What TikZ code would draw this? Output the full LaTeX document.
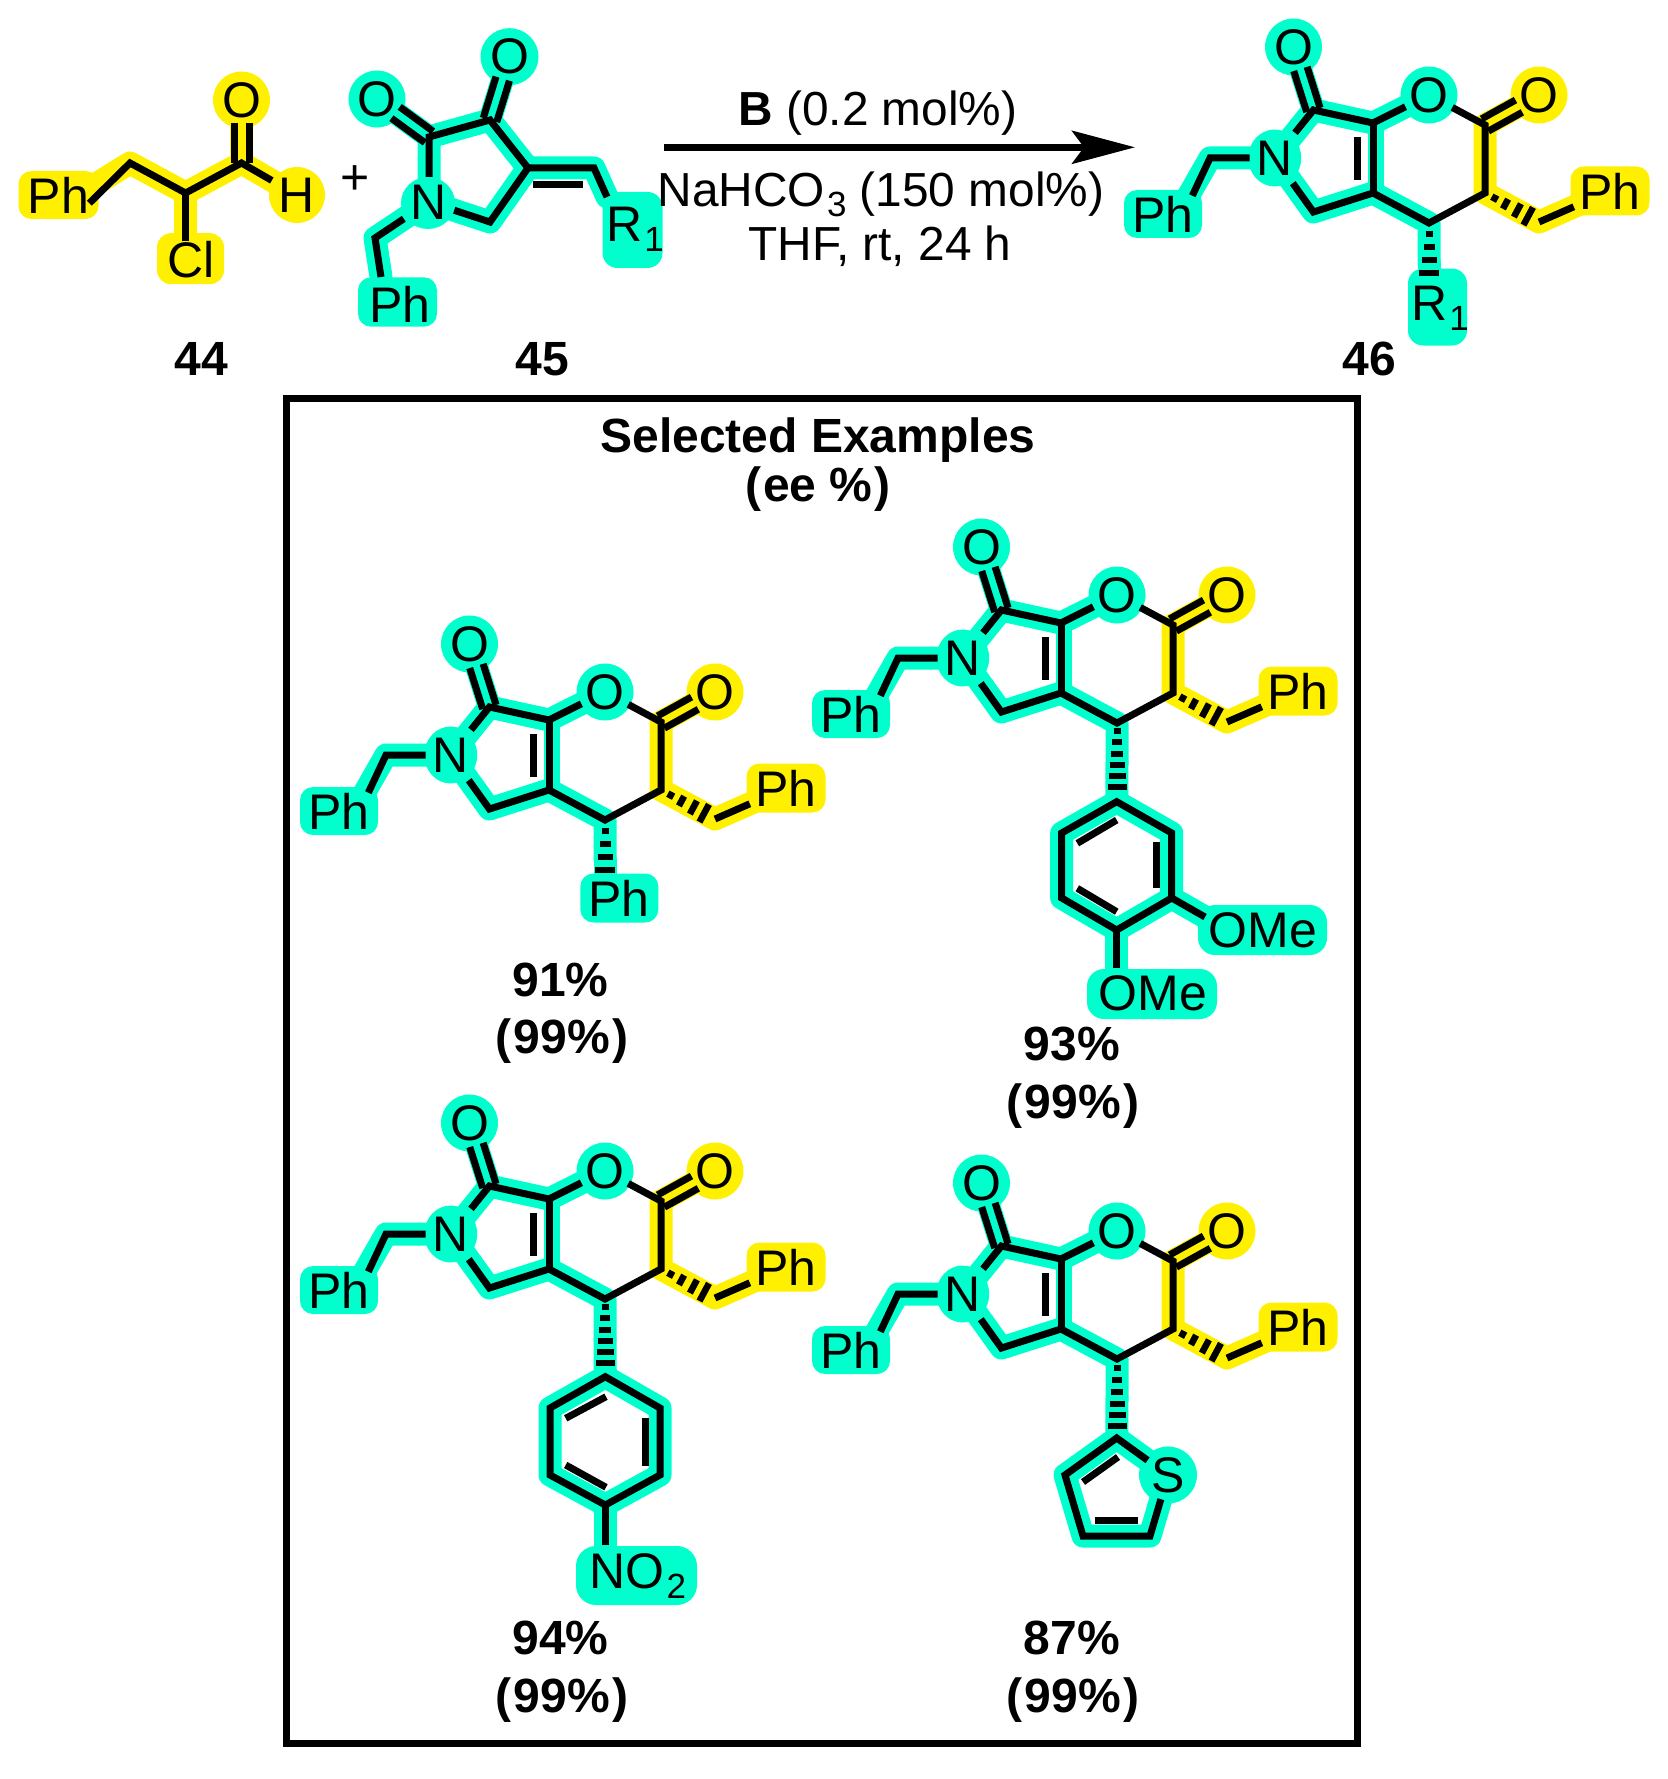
\documentclass[tikz,border=0pt]{standalone}
\usepackage{fontspec}
\setmainfont{Liberation Sans}
\usetikzlibrary{calc,arrows.meta}
\definecolor{hlT}{HTML}{00FFCC}
\definecolor{hlY}{HTML}{FFF000}
\newcommand\chemsub[1]{\kern2pt\raisebox{-10pt}{\fontsize{35}{35}\selectfont #1}}
\newcommand\blobr[5]{\fill[#5,rounded corners=#4 pt] ([shift={(-#2,-#3)}]#1) rectangle ([shift={(#2,#3)}]#1);}
\newcommand\blobe[4]{\fill[#4] (#1) ellipse [x radius=#2 pt,y radius=#3 pt];}
\newcommand\hashdown[2]{\foreach \d/\w in #2 {\draw[stripe] ([shift={(-\w,\d)}]#1) -- ([shift={(\w,\d)}]#1);}}
\newcommand\dbl[4]{\draw[bondline,shorten >=#4 pt] ($(#1)!#3 pt!90:(#2)$) -- ($(#2)!#3 pt!-90:(#1)$);\draw[bondline,shorten >=#4 pt] ($(#1)!#3 pt!-90:(#2)$) -- ($(#2)!#3 pt!90:(#1)$);}
\newcommand\fourhash{11/3.5,24/5.5,37/7.5,50/10}
\newcommand\sixhash{8/3.5,19/5,31/6,42/7.5,53/8.5,64/9.5}
\newcommand\sixhashb{9/3.5,21/5,33/6,45/7.5,56/8.5,67/9.5}
\newcommand\yieldpar{(\kern2pt 99\%\kern2pt)}
\tikzset{
  bondline/.style={draw=black,line width=7pt},
  stripe/.style={draw=black,line width=6.5pt},
  bandT/.style={draw=hlT,line width=23pt,line cap=round,line join=round},
  bandY/.style={draw=hlY,line width=23pt,line cap=round,line join=round},
  atomlbl/.style={inner sep=0pt,font=\fontsize{50}{52}\selectfont},
  rectatom/.style={atomlbl,minimum width=50pt,minimum height=50pt},
  roundatom/.style={atomlbl,circle,minimum size=50pt},
  plaintext/.style={inner sep=0pt,anchor=base,font=\fontsize{47.8}{50}\selectfont},
  boldtext/.style={inner sep=0pt,anchor=base,font=\fontsize{48}{50}\selectfont\bfseries},
  core/.pic={
    \coordinate (otopc) at (-135.5,-176);
    \coordinate (c7) at (-115.6,-113);
    \coordinate (nc0) at (-154.3,-65);
    \coordinate (c1) at (-115.6,-11);
    \coordinate (c3a) at (-56,-30);
    \coordinate (c7a) at (-56,-100);
    \coordinate (orc) at (0,-128);
    \coordinate (c2) at (56,-98);
    \coordinate (oxc) at (110,-128);
    \coordinate (c3) at (56,-30);
    \coordinate (c4) at (0,0);
    \coordinate (w) at (0,40);
    \coordinate (bn) at (110,-1);
    \coordinate (phrc) at (181,-32);
    \coordinate (nch) at (-219,-65);
    \coordinate (phlc) at (-266,-9);
    \coordinate (phla) at (-251,-9);
    \coordinate (ia) at (-71.5,-86);
    \coordinate (ib) at (-71.5,-43);
    \coordinate (sa) at (-53,-100);
    \coordinate (sb) at (-53,-30);
    \draw[bandT] (otopc) -- (c7) -- (c7a) -- (orc);
    \draw[bandT] (nc0) -- (c7);
    \draw[bandT] (phla) -- (nch) -- (nc0) -- (c1) -- (c3a) -- (c4) -- (w);
    \draw[bandT,line width=16pt] (sa) -- (sb);
    \draw[bandY] (oxc) -- (c2) -- (c3) -- (bn) -- (phrc);
    \blobe{otopc}{28.5}{28.5}{hlT}
    \blobe{nc0}{26.5}{28.5}{hlT}
    \blobe{orc}{28.5}{28.5}{hlT}
    \blobe{oxc}{28.5}{28.5}{hlY}
    \blobr{phlc}{39}{24}{13}{hlT}
    \blobr{phrc}{39.5}{24.5}{13}{hlY}
    \node[roundatom] (otop) at (otopc) {O};
    \node[rectatom] (nn) at (nc0) {N};
    \node[roundatom] (oring) at (orc) {O};
    \node[roundatom] (oexo) at (oxc) {O};
    \node[atomlbl,minimum width=72pt] (phl) at (phlc) {Ph};
    \node[atomlbl,minimum width=72pt] (phr) at (phrc) {Ph};
    \draw[bondline] (nn) -- (nch) -- (phl.32);
    \draw[bondline] (nn) -- (c7) -- (c7a) -- (oring);
    \draw[bondline] (nn) -- (c1) -- (c3a) -- (c4) -- (c3) -- (c2) -- (oring);
    \draw[bondline] (c3a) -- (c7a);
    \draw[bondline] (ia) -- (ib);
    \draw[bondline] (bn) -- (phr);
    \dbl{c7}{otop}{7}{23}
    \dbl{c2}{oexo}{7}{23}
    \foreach \t/\w in {.18/3.5,.38/5.5,.6/7.5,.8/10}
      {\draw[stripe] ($(c3)!\t!(bn)!\w pt!90:(bn)$) -- ($(c3)!\t!(bn)!\w pt!-90:(bn)$);}
  }
}
\begin{document}
\begin{tikzpicture}[x=1pt,y=-1pt]
\useasboundingbox (0,0) rectangle (1667,1779);

% ---- compound 44
\coordinate (aPh) at (58.5,195);
\coordinate (aPa) at (75,197);
\coordinate (aCa) at (130,163);
\coordinate (aCb) at (185.6,193);
\coordinate (aCc) at (241.5,163);
\coordinate (aOc) at (241.5,100);
\coordinate (aHc) at (297,195);
\coordinate (aCl) at (190.8,260);
\coordinate (aClb) at (185.6,245);
\coordinate (aClk) at (190.5,258.7);
\draw[bandY] (aPa) -- (aCa) -- (aCb) -- (aCc) -- (aOc);
\draw[bandY] (aCc) -- (aHc);
\draw[bandY] (aCb) -- (aClb);
\blobr{aPh}{40}{24}{13}{hlY}
\blobe{aOc}{28.5}{28.5}{hlY}
\blobe{aHc}{28}{28}{hlY}
\blobr{aClk}{33.5}{25.5}{14}{hlY}
\node[atomlbl,minimum width=60pt] (ph44) at (aPh) {Ph};
\node[roundatom] (o44) at (aOc) {O};
\node[atomlbl,minimum width=50pt] (h44) at (aHc) {H};
\node[atomlbl] (cl44) at (aCl) {Cl};
\draw[bondline] (ph44.-15) -- (aCa) -- (aCb) -- (aCc) -- (h44);
\draw[bondline] (aCb) -- (aCb |- cl44.north);
\dbl{aCc}{o44}{7.5}{23}
\node[atomlbl] (plus) at (354.7,180) {+};

% ---- compound 45
\coordinate (bO1) at (377,99);
\coordinate (bO2) at (509.5,56.7);
\coordinate (bA) at (429,137);
\coordinate (bB) at (490,120);
\coordinate (bN) at (429,202);
\coordinate (bNk) at (428,203);
\coordinate (bD) at (528,168);
\coordinate (bE) at (490,222);
\coordinate (bF) at (594,168);
\coordinate (bFi) at (533,185);
\coordinate (bGi) at (583,185);
\coordinate (bRe) at (607,197);
\coordinate (bRb) at (632.5,230);
\coordinate (bCn) at (375,238);
\coordinate (bPe) at (381,277);
\coordinate (bPb) at (397.5,302);
\draw[bandT] (bO1) -- (bA) -- (bB) -- (bO2);
\draw[bandT] (bA) -- (bN) -- (bE) -- (bD) -- (bB);
\draw[bandT] (bD) -- (bF) -- (bRe);
\draw[bandT] (bN) -- (bCn) -- (bPe);
\blobe{bO1}{28.5}{28.5}{hlT}
\blobe{bO2}{29}{28.5}{hlT}
\blobe{bNk}{27}{26}{hlT}
\blobr{bRb}{30}{38}{15}{hlT}
\blobr{bPb}{39.5}{24.7}{13}{hlT}
\node[roundatom] (o145) at (bO1) {O};
\node[roundatom] (o245) at (bO2) {O};
\node[rectatom] (n45) at (bN) {N};
\node[atomlbl,anchor=base west] (r45) at (606,242) {R\chemsub{1}};
\node[atomlbl] (ph45) at (400,304) {Ph};
\draw[bondline] (n45) -- (bA) -- (bB) -- (bD) -- (bE) -- (n45);
\draw[bondline] (n45) -- (bCn) -- (bPe);
\draw[bondline] (bD) -- (bF) -- (bRe);
\draw[bondline] (bFi) -- (bGi);
\dbl{bA}{o145}{7}{23}
\dbl{bB}{o245}{7}{23}

% ---- arrow and conditions
\coordinate (arA) at (664,147.3);
\coordinate (arB) at (1135,147.3);
\draw[line width=6.7pt,-{Stealth[length=63pt,width=33pt,inset=12pt]}] (arA) -- (arB);
\node[plaintext] (cond1) at (878,126) {\textbf{B} (0.2 mol\%)};
\node[plaintext] (cond2) at (881,206.5) {NaHCO\chemsub{3} (150 mol\%)};
\node[plaintext] (cond3) at (880,261) {THF, rt, 24 h};

% ---- compound 46
\pic (m0) at (1429,223) {core};
\coordinate (m0b) at (1429,277);
\coordinate (m0k) at (1437.5,307);
\draw[bandT] (m0w) -- (m0b);
\blobr{m0k}{29.5}{38.5}{15}{hlT}
\node[atomlbl,anchor=base west] (r46) at (1411,320) {R\chemsub{1}};
\hashdown{m0c4}{\fourhash}

\node[boldtext] (l44) at (201.6,375) {44};
\node[boldtext] (l45) at (542,375) {45};
\node[boldtext] (l46) at (1369,375) {46};

% ---- frame
\coordinate (fA) at (286,398);
\coordinate (fB) at (1357,1743);
\draw[line width=7pt] (fA) rectangle (fB);
\node[boldtext] (sel1) at (818,452) {Selected Examples};
\node[boldtext] (sel2) at (818,501.6) {(\kern2pt ee \%\kern2pt)};

% ---- example 1
\pic (m1) at (605,820) {core};
\coordinate (e1b) at (605,880);
\coordinate (e1k) at (619.3,898);
\draw[bandT] (m1w) -- (e1b);
\blobr{e1k}{39}{24.5}{13}{hlT}
\node[atomlbl] (e1ph) at (618.6,898) {Ph};
\hashdown{m1c4}{\fourhash}
\node[boldtext] (y1a) at (560.6,996) {91\%};
\node[boldtext] (y1b) at (562,1053) {\yieldpar};

% ---- example 2
\pic (m2) at (1117,723) {core};
\coordinate (r2a) at (1116.7,801.7);
\coordinate (r2b) at (1171.7,833);
\coordinate (r2c) at (1171.7,898);
\coordinate (r2d) at (1116.7,930);
\coordinate (r2e) at (1061.7,898);
\coordinate (r2f) at (1061.7,833);
\coordinate (r2g) at (1116.7,968);
\coordinate (r2h) at (1205,917);
\coordinate (r2i) at (1077.3,843.3);
\coordinate (r2j) at (1116.7,820);
\coordinate (r2k) at (1156.7,841.7);
\coordinate (r2l) at (1156.7,888.3);
\coordinate (r2m) at (1077.3,888.3);
\coordinate (r2n) at (1116.7,911.7);
\coordinate (r2p) at (1262.5,930);
\coordinate (r2q) at (1152,994);
\draw[bandT] (m2w) -- (r2a);
\draw[bandT] (r2a) -- (r2b) -- (r2c) -- (r2d) -- (r2e) -- (r2f) -- cycle;
\draw[bandT] (r2c) -- (r2h);
\draw[bandT] (r2d) -- (r2g);
\blobr{r2p}{64.5}{25}{17}{hlT}
\blobr{r2q}{65}{25}{17}{hlT}
\node[atomlbl] (e2o1) at (1263,930.7) {OMe};
\node[atomlbl] (e2o2) at (1152.7,993) {OMe};
\draw[bondline,line join=miter] (r2a) -- (r2b) -- (r2c) -- (r2d) -- (r2e) -- (r2f) -- cycle;
\draw[bondline] (r2c) -- (r2h);
\draw[bondline] (r2d) -- (r2g);
\draw[bondline] (r2i) -- (r2j);
\draw[bondline] (r2k) -- (r2l);
\draw[bondline] (r2m) -- (r2n);
\hashdown{m2c4}{\sixhash}
\node[boldtext] (y2a) at (1072,1060) {93\%};
\node[boldtext] (y2b) at (1073,1118) {\yieldpar};

% ---- example 3
\pic (m3) at (605,1299) {core};
\coordinate (r3a) at (605.3,1376.7);
\coordinate (r3b) at (660,1408);
\coordinate (r3c) at (660,1475);
\coordinate (r3d) at (605.3,1505);
\coordinate (r3e) at (550,1475);
\coordinate (r3f) at (550,1408);
\coordinate (r3g) at (605.3,1545);
\coordinate (r3i) at (565.7,1418.3);
\coordinate (r3j) at (606,1396.7);
\coordinate (r3k) at (645.7,1418);
\coordinate (r3l) at (645.7,1466);
\coordinate (r3m) at (565.7,1465);
\coordinate (r3n) at (606,1487.3);
\coordinate (r3p) at (636.5,1575.5);
\draw[bandT] (m3w) -- (r3a);
\draw[bandT] (r3a) -- (r3b) -- (r3c) -- (r3d) -- (r3e) -- (r3f) -- cycle;
\draw[bandT] (r3d) -- (r3g);
\blobr{r3p}{60.5}{29.5}{20}{hlT}
\node[atomlbl,anchor=base west] (e3no) at (589.5,1588) {NO\chemsub{2}};
\draw[bondline] (r3a) -- (r3b) -- (r3c) -- (r3d) -- (r3e) -- (r3f) -- cycle;
\draw[bondline] (r3d) -- (r3g);
\draw[bondline] (r3i) -- (r3j);
\draw[bondline] (r3k) -- (r3l);
\draw[bondline] (r3m) -- (r3n);
\hashdown{m3c4}{\sixhash}
\node[boldtext] (y3a) at (560.6,1654.5) {94\%};
\node[boldtext] (y3b) at (562,1712) {\yieldpar};

% ---- example 4
\pic (m4) at (1117,1359) {core};
\coordinate (r4a) at (1116.7,1438);
\coordinate (r4b) at (1065,1475);
\coordinate (r4c) at (1083,1536);
\coordinate (r4d) at (1150,1536);
\coordinate (r4s) at (1168,1475);
\coordinate (r4i) at (1083,1482);
\coordinate (r4j) at (1118,1457);
\coordinate (r4k) at (1095,1520);
\coordinate (r4l) at (1138,1520);
\draw[bandT] (m4w) -- (r4a);
\draw[bandT] (r4s) -- (r4a) -- (r4b) -- (r4c) -- (r4d) -- (r4s);
\blobe{r4s}{29}{28.5}{hlT}
\node[roundatom] (e4s) at (r4s) {S};
\draw[bondline] (e4s) -- (r4a) -- (r4b) -- (r4c) -- (r4d) -- (e4s);
\draw[bondline] (r4i) -- (r4j);
\draw[bondline] (r4k) -- (r4l);
\hashdown{m4c4}{\sixhashb}
\node[boldtext] (y4a) at (1072,1654.5) {87\%};
\node[boldtext] (y4b) at (1073,1712) {\yieldpar};
\end{tikzpicture}
\end{document}
